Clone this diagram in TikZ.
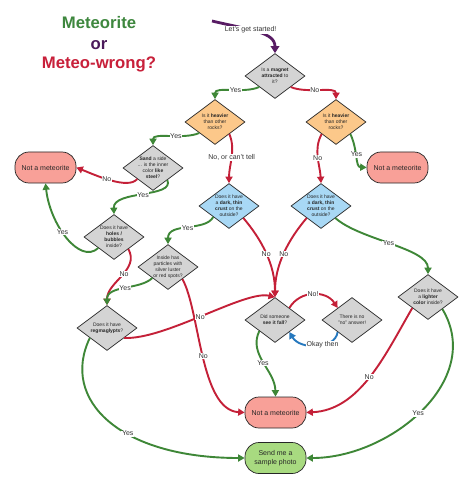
\documentclass[tikz,border=0pt]{standalone}
\usepackage{fontspec}
\setmainfont{Liberation Sans}
\usetikzlibrary{shapes.geometric,arrows.meta}
\definecolor{cgreen}{RGB}{62,135,55}
\definecolor{cred}{RGB}{196,32,56}
\definecolor{cblue}{RGB}{38,120,190}
\definecolor{cpurple}{RGB}{88,28,100}
\definecolor{fgray}{RGB}{212,212,212}
\definecolor{forange}{RGB}{252,200,138}
\definecolor{fblue}{RGB}{168,216,245}
\definecolor{fred}{RGB}{248,160,152}
\definecolor{fgreen}{RGB}{168,218,128}
\definecolor{tgreen}{RGB}{62,135,62}
\definecolor{tpurple}{RGB}{75,25,90}
\definecolor{tred}{RGB}{200,32,58}
\begin{document}
\begin{tikzpicture}[x=1pt,y=-1pt,
  dia/.style={diamond, draw=black!85, line width=0.7pt, minimum width=60pt, minimum height=45pt, inner sep=0pt},
  dt/.style={font=\fontsize{5}{6}\selectfont, align=center, text=black!85},
  term/.style={draw=black!85, line width=0.7pt, rounded corners=14pt, minimum width=61pt, minimum height=31pt, font=\fontsize{7}{8.5}\selectfont, align=center, text=black!85},
  lbl/.style={fill=white, inner sep=0.6pt, font=\fontsize{7}{8}\selectfont, text=black!80},
  ar/.style={line width=1.9pt, -{Triangle[length=6.5pt,width=7pt]}},
  yes/.style={ar, draw=cgreen},
  no/.style={ar, draw=cred},
  ttl/.style={font=\bfseries\fontsize{16.7}{20}\selectfont, anchor=base}
]
\useasboundingbox (0,0) rectangle (474,489);
\fill[white] (0,0) rectangle (474,489);
% title
\node[ttl, text=tgreen] (t1) at (99,29) {Meteorite};
\node[ttl, text=tpurple] (t2) at (99,50) {or};
\node[ttl, text=tred] (t3) at (99,69) {Meteo-wrong?};
% decisions
\node[dia, fill=fgray, label={[dt]center:{Is a \textbf{magnet}\\ \textbf{attracted} to\\ it?}}] (d1) at (275,76) {};
\node[dia, fill=forange, label={[dt]center:{Is it \textbf{heavier}\\ than other\\ rocks?}}] (d2) at (215,122) {};
\node[dia, fill=forange, label={[dt]center:{Is it \textbf{heavier}\\ than other\\ rocks?}}] (d3) at (336,122) {};
\node[dia, fill=fgray, label={[dt]center:{\textbf{Sand} a side\\ ... is the inner\\ color \textbf{like}\\ \textbf{steel}?}}] (d4) at (153,168) {};
\node[dia, fill=fgray, label={[dt]center:{Does it have\\ \textbf{holes /}\\ \textbf{bubbles}\\ inside?}}] (d5) at (114,237) {};
\node[dia, fill=fgray, label={[dt]center:{Inside has\\ particles with\\ silver luster\\ or red spots?}}] (d6) at (168,267) {};
\node[dia, fill=fgray, label={[dt]center:{Does it have\\ \textbf{regmaglypts}?}}] (d7) at (107,328) {};
\node[dia, fill=fblue, label={[dt]center:{Does it have\\ a \textbf{dark, thin}\\ \textbf{crust} on the\\ outside?}}] (d8a) at (229,206) {};
\node[dia, fill=fblue, label={[dt]center:{Does it have\\ a \textbf{dark, thin}\\ \textbf{crust} on the\\ outside?}}] (d8b) at (321,206) {};
\node[dia, fill=fgray, label={[dt]center:{Did someone\\ \textbf{see it fall}?}}] (d9) at (275,320) {};
\node[dia, fill=fgray, label={[dt]center:{There is no\\ "no" answer!}}] (d10) at (352,320) {};
\node[dia, fill=fgray, label={[dt]center:{Does it have\\ a \textbf{lighter}\\ \textbf{color} inside?}}] (d11) at (428,297) {};
% terminals
\node[term, fill=fred] (nl) at (45.5,167.5) {Not a meteorite};
\node[term, fill=fred] (nr) at (397.5,167.5) {Not a meteorite};
\node[term, fill=fred] (nm) at (275.5,412.5) {Not a meteorite};
\node[term, fill=fgreen] (sp) at (275.5,458) {Send me a\\ sample photo};
% start
\coordinate (st) at (212,21);
\draw[draw=cpurple, line width=2.8pt, -{Triangle[length=7pt,width=8.5pt]}] (st) .. controls (250,30) and (275,32) .. node[lbl, pos=0.4, inner sep=1pt]{Let's get started!} (d1.north);
% connectors
\draw[yes] (d1.215) .. controls (243,94) and (215,86) .. node[lbl,pos=0.42]{Yes} (d2.north);
\draw[no] (d1.-35) .. controls (307,94) and (336,86) .. node[lbl,pos=0.42]{No} (d3.north);
\draw[yes] (d2.215) .. controls (183,140) and (153,132) .. node[lbl,pos=0.4]{Yes} (d4.north);
\draw[no] (d2.-40) .. controls (236,150) and (229,165) .. node[lbl,pos=0.5]{No, or can't tell} (d8a.north);
\draw[no] (d3.220) .. controls (313,150) and (320,165) .. node[lbl,pos=0.5]{No} (d8b.north);
\draw[yes] (d3.-40) .. controls (358,150) and (355,167) .. node[lbl,pos=0.45]{Yes} (nr.west);
\draw[no] (d4.215) .. controls (128,190) and (95,175) .. node[lbl,pos=0.55]{No} (nl.east);
\draw[yes] (d4.-40) .. controls (175,198) and (113,190) .. node[lbl,pos=0.5]{Yes} (d5.north);
\draw[yes] (d5.215) .. controls (80,265) and (50,225) .. node[lbl,pos=0.57]{Yes} (nl.south);
\draw[no] (d5.-40) .. controls (140,270) and (107,282) .. node[lbl,pos=0.45]{No} (d7.north);
\draw[yes] (d6.215) .. controls (140,290) and (107,285) .. node[lbl,pos=0.5]{Yes} (d7.north);
\draw[no] (d6.-40) .. controls (200,310) and (200,410) .. node[lbl,pos=0.5]{No} (nm.west);
\draw[no] (d7.-30) .. controls (165,340) and (245,290) .. node[lbl,pos=0.48]{No} (d9.north);
\draw[yes] (d8a.215) .. controls (205,232) and (168,222) .. node[lbl,pos=0.5]{Yes} (d6.north);
\draw[no] (d8a.-40) .. controls (262,240) and (275,265) .. node[lbl,pos=0.5]{No} (d9.north);
\draw[no] (d8b.220) .. controls (288,240) and (275,265) .. node[lbl,pos=0.5]{No} (d9.north);
\draw[yes] (d8b.-40) .. controls (360,240) and (428,248) .. node[lbl,pos=0.48]{Yes} (d11.north);
\draw[no] (d9.40) .. controls (300,290) and (326,290) .. node[lbl,pos=0.5]{No!} (d10.140);
\draw[ar, draw=cblue] (d10.220) .. controls (335,350) and (300,350) .. node[lbl,pos=0.4]{Okay then} (d9.-40);
\draw[yes] (d9.215) .. controls (248,355) and (275,370) .. node[lbl,pos=0.5]{Yes} (nm.north);
\draw[no] (d11.215) .. controls (385,355) and (360,410) .. node[lbl,pos=0.5]{No} (nm.east);
\draw[yes] (d11.-40) .. controls (485,380) and (390,458) .. node[lbl,pos=0.52]{Yes} (sp.east);
\draw[yes] (d7.210) .. controls (60,400) and (120,458) .. node[lbl,pos=0.6]{Yes} (sp.west);
\end{tikzpicture}
\end{document}
